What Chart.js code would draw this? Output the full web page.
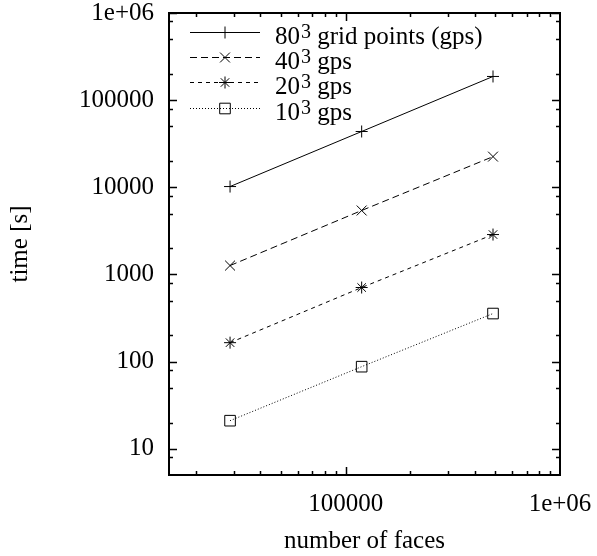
<!DOCTYPE html>
<html>
<head>
<meta charset="utf-8">
<script src="https://cdn.jsdelivr.net/npm/chart.js@4/dist/chart.umd.min.js"></script>
<style>
  html, body { margin: 0; padding: 0; background: #fff; }
  .chart__wrapper { width: 597px; height: 556px; position: relative; }
</style>
</head>
<body>
<div class="chart__wrapper">
  <canvas id="faces-chart"></canvas>
</div>
<script>
  const faces = [28900, 118800, 487000];
  const gps80 = [10200, 43700, 187000];
  const gps40 = [1265, 5420, 22500];
  const gps20 = [165, 708, 2870];
  const gps10 = [21, 87.5, 356];

  const xMajorTicks = [100000, 1000000];
  const yMajorTicks = [10, 100, 1000, 10000, 100000, 1000000];
  const xMinorSteps = [2, 3, 4, 5, 6, 7, 8, 9];
  const yMinorSteps = [2, 5, 8];

  const seriesNames = ["80", "40", "20", "10"];
  const seriesSuffix = [" grid points (gps)", " gps", " gps", " gps"];

  const serif = "'Liberation Serif', 'DejaVu Serif', serif";

  const series = [
    { name: "80", values: gps80, dash: [], style: "cross", radius: 6 },
    { name: "40", values: gps40, dash: [7, 4], style: "crossRot", radius: 7 },
    { name: "20", values: gps20, dash: [4, 4], style: "star", radius: 6 },
    { name: "10", values: gps10, dash: [1, 2], style: "rect", radius: 7.5 },
  ];

  const toPoints = (values) => faces.map((f, i) => ({ x: f, y: values[i] }));

  const tickLabel = (v) => (v >= 1000000 ? "1e+06" : String(v));

  const noPadding = (scale) => {
    scale.paddingTop = 0;
    scale.paddingBottom = 0;
    scale.paddingLeft = 0;
    scale.paddingRight = 0;
  };

  // frame, inward ticks on all sides, and the gnuplot style key
  const framePlugin = {
    id: "frame",
    afterDraw(chart) {
      const { ctx, chartArea: a } = chart;
      const xs = chart.scales.x;
      const ys = chart.scales.y;
      ctx.save();
      ctx.strokeStyle = "#000";
      ctx.lineWidth = 1.5;

      const xTick = (v, len) => {
        const px = Math.round(xs.getPixelForValue(v)) + 0.5;
        if (px < a.left || px > a.right) return;
        ctx.beginPath();
        ctx.moveTo(px, a.bottom); ctx.lineTo(px, a.bottom - len);
        ctx.moveTo(px, a.top); ctx.lineTo(px, a.top + len);
        ctx.stroke();
      };
      const yTick = (v, len) => {
        const py = Math.round(ys.getPixelForValue(v)) + 0.5;
        if (py < a.top || py > a.bottom) return;
        ctx.beginPath();
        ctx.moveTo(a.left, py); ctx.lineTo(a.left + len, py);
        ctx.moveTo(a.right, py); ctx.lineTo(a.right - len, py);
        ctx.stroke();
      };

      [10000, 100000].forEach((d) => xMinorSteps.forEach((m) => xTick(d * m, 4)));
      xMajorTicks.forEach((v) => xTick(v, 8));
      [1, 10, 100, 1000, 10000, 100000].forEach((d) => yMinorSteps.forEach((m) => yTick(d * m, 4)));
      yMajorTicks.forEach((v) => yTick(v, 8));

      ctx.lineWidth = 2;
      ctx.strokeRect(a.left, a.top, a.right - a.left, a.bottom - a.top);

      // key
      const rowY = [32, 57, 82, 108];
      ctx.lineWidth = 1;
      series.forEach((s, i) => {
        const y = rowY[i] + 0.5;
        ctx.setLineDash(s.dash);
        ctx.beginPath();
        ctx.moveTo(190, y);
        ctx.lineTo(260, y);
        ctx.stroke();
        ctx.setLineDash([]);
        ctx.fillStyle = "rgba(0,0,0,0)";
        Chart.helpers.drawPoint(ctx, {
          pointStyle: s.style, radius: s.radius, rotation: 0, borderWidth: 1,
        }, 225, y);

        ctx.fillStyle = "#000";
        ctx.textBaseline = "alphabetic";
        ctx.textAlign = "left";
        ctx.font = "25px " + serif;
        const base = rowY[i] + 12;
        let x = 275;
        ctx.fillText(seriesNames[i], x, base);
        x += ctx.measureText(seriesNames[i]).width;
        ctx.font = "20px " + serif;
        ctx.fillText("3", x + 1, base - 6);
        x += ctx.measureText("3").width + 1;
        ctx.font = "25px " + serif;
        ctx.fillText(seriesSuffix[i], x, base);
      });
      ctx.restore();
    },
  };

  const ctx = document.getElementById("faces-chart").getContext("2d");

  new Chart(ctx, {
    type: "line",
    data: {
      datasets: series.map((s) => ({
        label: s.name,
        data: toPoints(s.values),
        borderColor: "#000",
        backgroundColor: "rgba(0,0,0,0)",
        borderWidth: 1,
        borderDash: s.dash,
        pointStyle: s.style,
        pointRadius: s.radius,
        pointBorderWidth: 1,
        pointBorderColor: "#000",
        pointBackgroundColor: "rgba(0,0,0,0)",
        tension: 0,
        fill: false,
      })),
    },
    options: {
      responsive: true,
      maintainAspectRatio: false,
      animation: false,
      layout: { padding: { top: 13, right: 37, left: 0, bottom: 0 } },
      scales: {
        x: {
          type: "logarithmic",
          min: 15000,
          max: 1000000,
          afterBuildTicks: (scale) => { scale.ticks = xMajorTicks.map((v) => ({ value: v })); },
          afterFit: (scale) => { scale.height = 81; noPadding(scale); },
          grid: { display: false, drawTicks: false },
          border: { display: false },
          ticks: {
            autoSkip: false,
            maxRotation: 0,
            minRotation: 0,
            padding: 14,
            color: "#000",
            font: { family: serif, size: 25 },
            callback: (v) => tickLabel(v),
          },
          title: {
            display: true,
            text: "number of faces",
            color: "#000",
            font: { family: serif, size: 25 },
            padding: { top: 0, bottom: 0 },
          },
        },
        y: {
          type: "logarithmic",
          min: 5,
          max: 1000000,
          afterBuildTicks: (scale) => { scale.ticks = yMajorTicks.map((v) => ({ value: v })); },
          afterFit: (scale) => { scale.width = 169; noPadding(scale); },
          grid: { display: false, drawTicks: false },
          border: { display: false },
          ticks: {
            autoSkip: false,
            padding: 15,
            color: "#000",
            font: { family: serif, size: 25 },
            callback: (v) => tickLabel(v),
          },
          title: {
            display: true,
            text: "time [s]",
            color: "#000",
            font: { family: serif, size: 25 },
            padding: { top: 5, bottom: 0 },
          },
        },
      },
      plugins: {
        legend: { display: false },
        tooltip: { enabled: false },
      },
    },
    plugins: [framePlugin],
  });
</script>
</body>
</html>
